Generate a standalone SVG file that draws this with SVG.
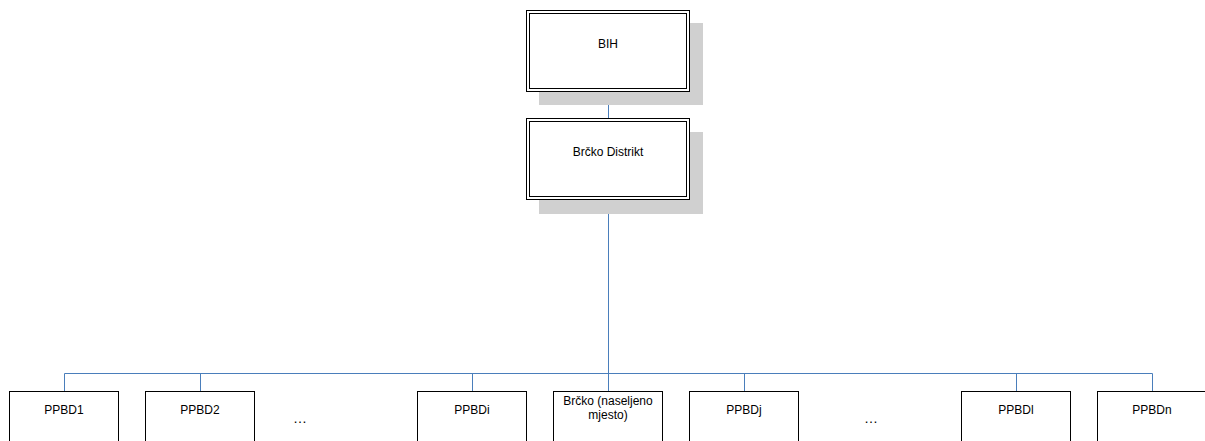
<svg xmlns="http://www.w3.org/2000/svg" width="1205" height="441" viewBox="0 0 1205 441">
<style>
.shadow{fill:#d0d0d0}
.box{fill:#fff;stroke:#000;stroke-width:1}
.inner{fill:none;stroke:#000;stroke-width:1}
.lbl{font-family:"Liberation Sans",Arial,sans-serif;font-size:12px;fill:#000;text-anchor:middle}
.dots{font-family:"Liberation Sans",Arial,sans-serif;font-size:14px;fill:#000;text-anchor:middle}
.conn{fill:none;stroke:#4a7ebb;stroke-width:1}
</style>
<rect width="1205" height="441" fill="#fff"/>
<g id="connectors">
<path class="conn" d="M608.5 91V118"/>
<path class="conn" d="M608.5 200V373.5" stroke-width="1.6"/>
<path class="conn" d="M64.5 373.5H1152.5"/>
<path class="conn" d="M64.5 373.5V391M200.5 373.5V391M472.5 373.5V391M608.5 373.5V391M744.5 373.5V391M1016.5 373.5V391M1152.5 373.5V391"/>
</g>
<g id="bih">
<rect class="shadow" x="539" y="23" width="164" height="82"/>
<rect class="box" x="526.5" y="10.5" width="163" height="81"/>
<rect class="inner" x="529.5" y="13.5" width="157" height="75"/>
<text class="lbl" x="608" y="48">BIH</text>
</g>
<g id="brcko-distrikt">
<rect class="shadow" x="539" y="132" width="164" height="82"/>
<rect class="box" x="526.5" y="118.5" width="163" height="81"/>
<rect class="inner" x="529.5" y="121.5" width="157" height="75"/>
<text class="lbl" x="608" y="156">Brčko Distrikt</text>
</g>
<g id="ppbd1"><rect class="box" x="9.5" y="391.5" width="109" height="60"/><text class="lbl" x="64" y="414">PPBD1</text></g>
<g id="ppbd2"><rect class="box" x="145.5" y="391.5" width="109" height="60"/><text class="lbl" x="200" y="414">PPBD2</text></g>
<text class="dots" x="300" y="423" id="dots1">…</text>
<g id="ppbdi"><rect class="box" x="417.5" y="391.5" width="109" height="60"/><text class="lbl" x="472" y="414">PPBDi</text></g>
<g id="brcko-nm"><rect class="box" x="553.5" y="391.5" width="109" height="60"/><text class="lbl" x="608" y="405">Brčko (naseljeno</text><text class="lbl" x="608" y="419">mjesto)</text></g>
<g id="ppbdj"><rect class="box" x="689.5" y="391.5" width="109" height="60"/><text class="lbl" x="744" y="414">PPBDj</text></g>
<text class="dots" x="871" y="423" id="dots2">…</text>
<g id="ppbdl"><rect class="box" x="961.5" y="391.5" width="109" height="60"/><text class="lbl" x="1016" y="414">PPBDl</text></g>
<g id="ppbdn"><rect class="box" x="1097.5" y="391.5" width="109" height="60"/><text class="lbl" x="1152" y="414">PPBDn</text></g>
</svg>
